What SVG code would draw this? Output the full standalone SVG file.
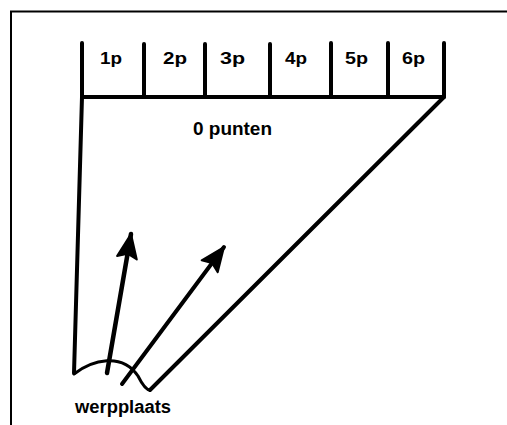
<svg xmlns="http://www.w3.org/2000/svg" width="507" height="425" viewBox="0 0 507 425">
<style>
.ln{fill:none;stroke:#000;stroke-linecap:round;stroke-linejoin:round}
.frame{fill:none;stroke:#000;stroke-width:2}
.lbl{font-family:"Liberation Sans",Arial,sans-serif;font-weight:bold;fill:#000}
</style>
<defs>
<marker id="ah" markerUnits="userSpaceOnUse" markerWidth="30" markerHeight="30" refX="0" refY="0" viewBox="-26 -12 30 24" orient="auto">
<path d="M0,0 L-24,-10 L-20,0 L-24,10 Z" fill="#000" stroke="#000" stroke-width="2" stroke-linejoin="round"/>
</marker>
</defs>
<rect width="507" height="425" fill="#fff"/>
<path class="frame" d="M11,425 L11,11.5 L507,11.5"/>
<g id="field">
<path class="ln" stroke-width="4" d="M82,43 L82,97 L74,373"/>
<path class="ln" stroke-width="4" d="M82,97 L444,97"/>
<path class="ln" stroke-width="4" d="M444,43 L444,97 L150,390"/>
<path class="ln" stroke-width="4" d="M144,44 L144,97 M205,44 L205,97 M270,44 L270,97 M331,43 L331,97 M388,43 L388,97"/>
<text class="lbl" x="232.5" y="135" font-size="18" text-anchor="middle" textLength="79" lengthAdjust="spacingAndGlyphs">0 punten</text>
</g>
<g id="zones">
<text class="lbl" x="100" y="64" font-size="16" textLength="22" lengthAdjust="spacingAndGlyphs">1p</text>
<text class="lbl" x="163" y="64" font-size="16" textLength="24" lengthAdjust="spacingAndGlyphs">2p</text>
<text class="lbl" x="220" y="64" font-size="16" textLength="25" lengthAdjust="spacingAndGlyphs">3p</text>
<text class="lbl" x="285" y="64" font-size="16" textLength="22" lengthAdjust="spacingAndGlyphs">4p</text>
<text class="lbl" x="345" y="64" font-size="16" textLength="23" lengthAdjust="spacingAndGlyphs">5p</text>
<text class="lbl" x="402" y="64" font-size="16" textLength="23" lengthAdjust="spacingAndGlyphs">6p</text>
</g>
<g id="werpplaats">
<path class="ln" stroke-width="3" d="M74,374 C92,360 122,352 138,376 Q145,390 150,390"/>
<text class="lbl" x="75" y="413" font-size="18" textLength="96" lengthAdjust="spacingAndGlyphs">werpplaats</text>
</g>
<g id="connectors">
<path class="ln" stroke-width="4.5" d="M107,373 L131,234" marker-end="url(#ah)"/>
<path class="ln" stroke-width="4" d="M122,384 L224,247" marker-end="url(#ah)"/>
</g>
</svg>
